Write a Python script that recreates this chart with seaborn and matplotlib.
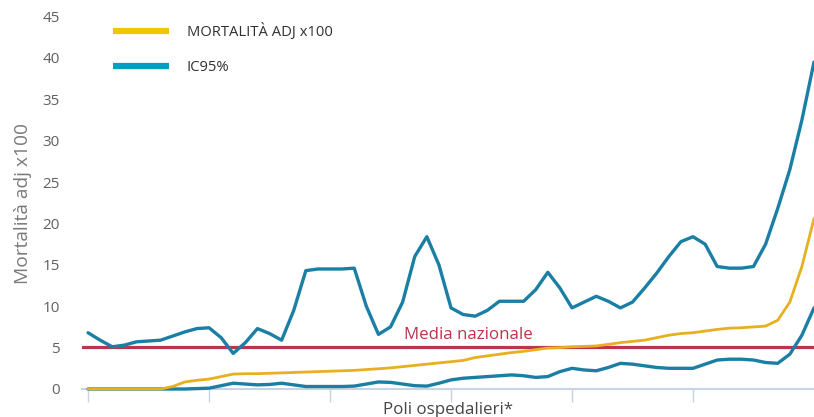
import numpy as np
import pandas as pd
import seaborn as sns
import matplotlib.pyplot as plt
from matplotlib.lines import Line2D

# Valori (un punto per polo ospedaliero, ordinati)
mortalita = [0, 0, 0, 0, 0, 0, 0, 0.3, 0.85, 1.05,
             1.2, 1.5, 1.8, 1.85, 1.85, 1.9, 1.95, 2.0, 2.05, 2.1,
             2.15, 2.2, 2.25, 2.35, 2.45, 2.55, 2.7, 2.85, 3.0, 3.15,
             3.3, 3.45, 3.8, 4.0, 4.2, 4.4, 4.55, 4.75, 4.95, 5.0,
             5.1, 5.15, 5.2, 5.4, 5.6, 5.75, 5.9, 6.2, 6.5, 6.7,
             6.8, 7.0, 7.2, 7.35, 7.4, 7.5, 7.6, 8.3, 10.5, 14.8,
             20.6]
ic95_sup = [6.8, 5.9, 5.1, 5.3, 5.7, 5.8, 5.9, 6.4, 6.9, 7.3,
            7.4, 6.2, 4.3, 5.6, 7.3, 6.7, 5.9, 9.5, 14.3, 14.5,
            14.5, 14.5, 14.6, 10.0, 6.6, 7.5, 10.5, 16.0, 18.4, 15.0,
            9.8, 9.0, 8.8, 9.5, 10.6, 10.6, 10.6, 12.0, 14.1, 12.2,
            9.8, 10.5, 11.2, 10.6, 9.8, 10.5, 12.2, 14.0, 16.0, 17.8,
            18.4, 17.5, 14.8, 14.6, 14.6, 14.8, 17.5, 21.8, 26.5, 32.5,
            39.5]
ic95_inf = [0, 0, 0, 0, 0, 0, 0, 0, 0, 0.05,
            0.1, 0.4, 0.7, 0.6, 0.5, 0.55, 0.7, 0.5, 0.3, 0.3,
            0.3, 0.3, 0.35, 0.6, 0.85, 0.8, 0.6, 0.4, 0.35, 0.7,
            1.1, 1.3, 1.4, 1.5, 1.6, 1.7, 1.6, 1.4, 1.5, 2.1,
            2.5, 2.3, 2.2, 2.6, 3.1, 3.0, 2.8, 2.6, 2.5, 2.5,
            2.5, 3.0, 3.5, 3.6, 3.6, 3.5, 3.2, 3.1, 4.2, 6.5,
            9.8]
media_nazionale = 5.1
poli = np.arange(len(mortalita))
yticks = [0, 5, 10, 15, 20, 25, 30, 35, 40, 45]
xticks = [0, 10, 20, 30, 40, 50]

giallo = '#e6b020'
blu = '#1b7ea5'
rosso = '#c0334d'

sns.set_style('white')
plt.rcParams['font.family'] = ['Open Sans', 'DejaVu Sans']

fig = plt.figure(figsize=(8.14, 4.17), dpi=100)
ax = fig.add_axes([82 / 814, 28 / 417, 1 - 82 / 814, 389 / 417])

# linea della media nazionale
ax.axhline(media_nazionale, color=rosso, lw=2.3, zorder=1)
ax.text(31.4, media_nazionale + 0.45, 'Media nazionale', color=rosso,
        fontsize=12.2, ha='center', va='bottom')

kw = dict(ax=ax, clip_on=False, solid_joinstyle='round', solid_capstyle='round')
sns.lineplot(x=poli, y=ic95_inf, color=blu, lw=2.4, zorder=3, **kw)
sns.lineplot(x=poli, y=ic95_sup, color=blu, lw=2.4, zorder=3, **kw)
sns.lineplot(x=poli, y=mortalita, color=giallo, lw=2.0, zorder=4, **kw)

ax.set_xlim(-0.5, 60)
ax.set_ylim(0, 47)
ax.set_yticks(yticks)
ax.set_xticks(xticks)
ax.set_xticklabels([])
ax.tick_params(axis='y', length=0, pad=16, labelsize=11, labelcolor='#606060')
ax.tick_params(axis='x', direction='out', length=9.5, width=1, color='#c5d3e3', bottom=True)

for s in ['top', 'right', 'left']:
    ax.spines[s].set_visible(False)
ax.spines['bottom'].set_color('#c8d4e4')
ax.spines['bottom'].set_linewidth(1.5)

ax.set_xlabel('Poli ospedalieri*', fontsize=12.2, color='#454545', labelpad=-4)
ax.set_ylabel('Mortalità adj x100', fontsize=13.8, color='#7a7a7a')
ax.yaxis.set_label_coords(-0.068, 0.478)

handles = [Line2D([], [], color='#f2c500', lw=4.5, solid_capstyle='butt'),
           Line2D([], [], color='#00a0c0', lw=4.5, solid_capstyle='butt')]
fig.legend(handles, ['MORTALITÀ ADJ x100', 'IC95%'], loc='upper left',
           bbox_to_anchor=(113 / 814, 1 - 23 / 417), frameon=False, fontsize=10.6,
           handlelength=3.8, handletextpad=1.2, labelspacing=1.35,
           borderpad=0, borderaxespad=0, labelcolor='#303030')

fig.savefig('out.png', dpi=100)
